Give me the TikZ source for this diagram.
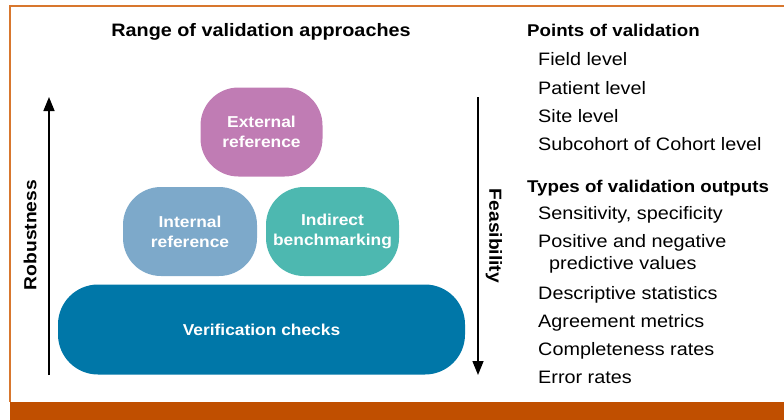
\documentclass[tikz,border=0pt]{standalone}
\usepackage{fontspec}
\setmainfont{Liberation Sans}[FakeStretch=1.1]
\usepackage{tikz}
\usetikzlibrary{arrows.meta, positioning}
\definecolor{rimorange}{RGB}{216, 119, 46}
\definecolor{barorange}{RGB}{192, 79, 0}
\definecolor{extpink}{RGB}{192, 124, 180}
\definecolor{intblue}{RGB}{125, 169, 202}
\definecolor{benchteal}{RGB}{77, 184, 176}
\definecolor{verifblue}{RGB}{0, 119, 168}

\begin{document}
\begin{tikzpicture}[
    x=1pt, y=-1pt,
    approach/.style={rounded corners=38pt, text=white,
                     minimum height=89pt, inner sep=0pt,
                     font=\fontsize{15.8}{20}\selectfont\bfseries,
                     align=center},
    heading/.style={anchor=base west, inner sep=0pt,
                    font=\fontsize{17}{21}\selectfont\bfseries},
    entry/.style={anchor=base west, inner sep=0pt,
                  font=\fontsize{18}{22}\selectfont},
    axislabel/.style={font=\fontsize{17.5}{21}\selectfont\bfseries},
    axisarr/.style={-{Triangle[length=14pt, width=11pt]}, line width=1.5pt},
]
    \useasboundingbox (0,0) rectangle (784,420);

    % frame and footer bar
    \fill[barorange] (10,402) rectangle (784,420);
    \draw[rimorange, line width=1.2pt] (784,6) -- (10,6) -- (10,402);

    % pyramid of approaches
    \node[anchor=center, font=\fontsize{18}{22}\selectfont\bfseries] (title) at (261,32) {Range of validation approaches};
    \node[approach, fill=extpink, minimum width=122pt] (extref) at (261.5,132) {External\\reference};
    \node[approach, fill=intblue, minimum width=134pt] (intref) at (190,231.5) {Internal\\reference};
    \node[approach, fill=benchteal, minimum width=133pt] (indbench) at (332.5,231.5) {Indirect\\benchmarking};
    \node[approach, fill=verifblue, minimum width=407pt, minimum height=90pt, rounded corners=40pt] (verif) at (261.5,329.5) {Verification checks};

    % side axes
    \coordinate (robbot) at (49,375);
    \coordinate (robtop) at (49,97);
    \coordinate (feastop) at (478,97);
    \coordinate (feasbot) at (478,375);
    \draw[axisarr] (robbot) -- (robtop);
    \draw[axisarr] (feastop) -- (feasbot);
    \node[axislabel, rotate=90] (robust) at (30,235) {Robustness};
    \node[axislabel, rotate=-90] (feasible) at (494,236) {Feasibility};

    % points of validation
    \node[heading] (points) at (527,37) {Points of validation};
    \node[entry] (field) at (538,66) {Field level};
    \node[entry, below=28pt of field.base west, anchor=base west] (patient) {Patient level};
    \node[entry, below=28pt of patient.base west, anchor=base west] (site) {Site level};
    \node[entry, below=28pt of site.base west, anchor=base west] (subco) {Subcohort of Cohort level};

    % types of outputs
    \node[heading] (types) at (527,192) {Types of validation outputs};
    \node[entry] (sens) at (538,219.5) {Sensitivity, specificity};
    \node[entry, below=28pt of sens.base west, anchor=base west] (posneg) {Positive and negative};
    \node[entry, below=22pt of posneg.base west, anchor=base west, xshift=11pt] (predval) {predictive values};
    \node[entry, below=52pt of posneg.base west, anchor=base west] (descr) {Descriptive statistics};
    \node[entry, below=28pt of descr.base west, anchor=base west] (agree) {Agreement metrics};
    \node[entry, below=28pt of agree.base west, anchor=base west] (complete) {Completeness rates};
    \node[entry, below=28pt of complete.base west, anchor=base west] (errors) {Error rates};
\end{tikzpicture}
\end{document}
